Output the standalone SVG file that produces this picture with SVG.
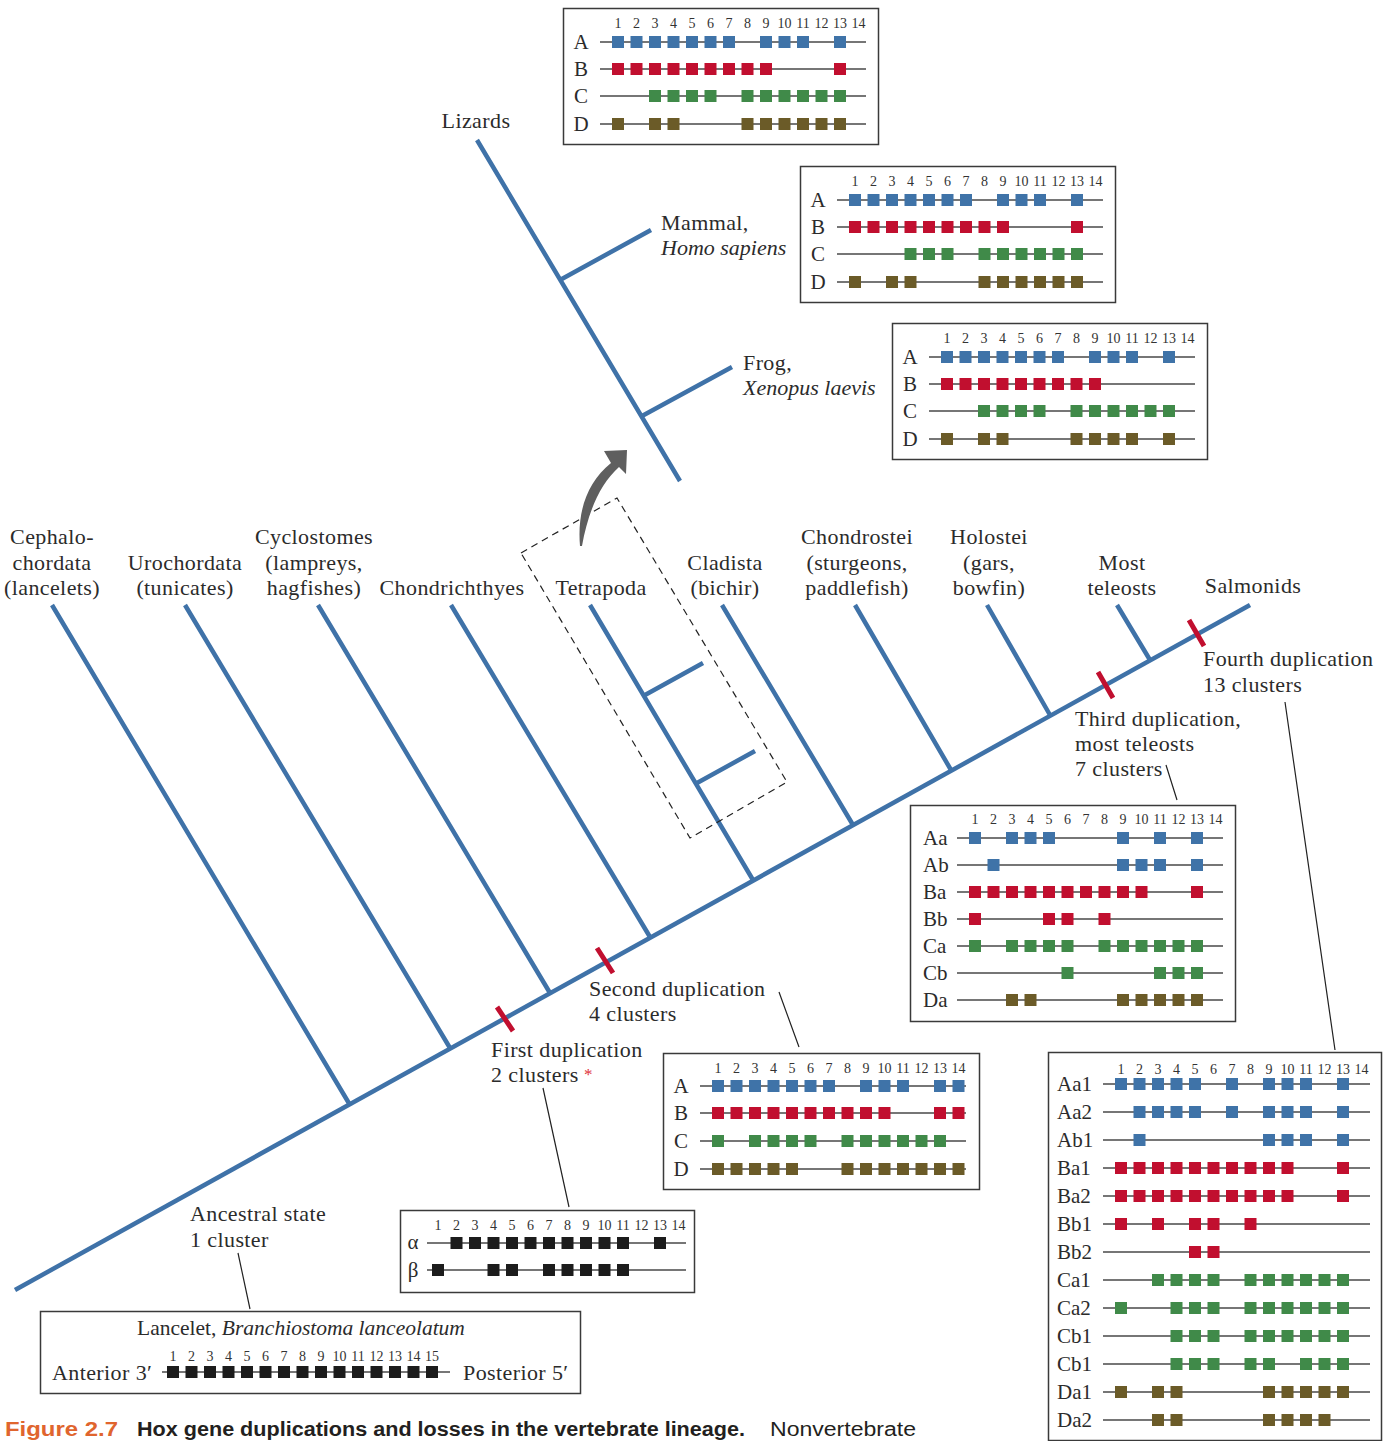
<svg xmlns="http://www.w3.org/2000/svg" xmlns:xlink="http://www.w3.org/1999/xlink" width="1396" height="1441" viewBox="0 0 1396 1441">
<style>
text{font-family:"Liberation Serif","DejaVu Serif",serif;fill:#2b2b2b}
.lab{font-size:22px;letter-spacing:0.4px}
.mid{text-anchor:middle}
.it{font-style:italic;letter-spacing:0}
.num{font-size:14px;text-anchor:middle;fill:#333}
.rlab{font-size:21px;text-anchor:middle}
.rlabs{font-size:21px}
.box{fill:#fff;stroke:#3a3a3a;stroke-width:1.5}
.rl{fill:none;stroke:#4a4a4a;stroke-width:1.5}
.A{fill:#3f73a8}.B{fill:#c10f2f}.C{fill:#408a49}.D{fill:#6b5b28}.K{fill:#1c1c1c}
.br{fill:none;stroke:#3f72a8;stroke-width:4.5}
.tick{stroke:#c10f2f;stroke-width:5}
.lead{stroke:#222;stroke-width:1.2;fill:none}
.cap{font-family:"Liberation Sans","Open Sans",sans-serif;font-size:20px}
</style>
<defs>
<rect id="s" x="-6" y="-6" width="12" height="12"/>
<g id="n14">
<text class="num" x="0">1</text><text class="num" x="18.5">2</text><text class="num" x="37">3</text><text class="num" x="55.5">4</text><text class="num" x="74">5</text><text class="num" x="92.5">6</text><text class="num" x="111">7</text><text class="num" x="129.5">8</text><text class="num" x="148">9</text><text class="num" x="166.5">10</text><text class="num" x="185">11</text><text class="num" x="203.5">12</text><text class="num" x="222">13</text><text class="num" x="240.5">14</text>
</g>
<g id="n15">
<use href="#n14"/><text class="num" x="259">15</text>
</g>
</defs>

<!-- connectors: tree -->
<g id="connectors">
<path class="br" d="M15 1290L1250 605"/>
<path class="br" d="M52 605L350 1105M185 605L450 1048M318 605L550 993M451 605L650 937M590 605L753 880M645 695L703 663M697 783L755 751M722 605L853 825M855 605L951 770M987 605L1050 715M1117 605L1150 660"/>
<path class="br" d="M477 140L680 481M560 280L651 230M642 416L732 367"/>
<path class="tick" d="M497 1007L513 1031M597 948L613 973M1098 672L1113 698M1189 620L1204 646"/>
<polygon points="521,553 617,498 787,782 690,838" fill="none" stroke="#222" stroke-width="1.2" stroke-dasharray="7,5"/>
<path d="M580 546C577 512 587 482 611 463L604 451L627 450L626 474L619 467C600 484 588 512 582 546Z" fill="#5f5f5f"/>
<path class="lead" d="M1166 765L1177 800M1285 702L1335 1050M779 992L799 1047M543 1088L569 1207M238 1253L250 1309"/>
</g>

<!-- tree labels -->
<g id="labels">
<text class="lab mid" x="52" y="544">Cephalo-</text>
<text class="lab mid" x="52" y="570">chordata</text>
<text class="lab mid" x="52" y="595">(lancelets)</text>
<text class="lab mid" x="185" y="570">Urochordata</text>
<text class="lab mid" x="185" y="595">(tunicates)</text>
<text class="lab mid" x="314" y="544">Cyclostomes</text>
<text class="lab mid" x="314" y="570">(lampreys,</text>
<text class="lab mid" x="314" y="595">hagfishes)</text>
<text class="lab mid" x="452" y="595">Chondrichthyes</text>
<text class="lab mid" x="601" y="595">Tetrapoda</text>
<text class="lab mid" x="725" y="570">Cladista</text>
<text class="lab mid" x="725" y="595">(bichir)</text>
<text class="lab mid" x="857" y="544">Chondrostei</text>
<text class="lab mid" x="857" y="570">(sturgeons,</text>
<text class="lab mid" x="857" y="595">paddlefish)</text>
<text class="lab mid" x="989" y="544">Holostei</text>
<text class="lab mid" x="989" y="570">(gars,</text>
<text class="lab mid" x="989" y="595">bowfin)</text>
<text class="lab mid" x="1122" y="570">Most</text>
<text class="lab mid" x="1122" y="595">teleosts</text>
<text class="lab mid" x="1253" y="593">Salmonids</text>
<text class="lab mid" x="476" y="128">Lizards</text>
<text class="lab" x="661" y="230">Mammal,</text>
<text class="lab it" x="661" y="255">Homo sapiens</text>
<text class="lab" x="743" y="370">Frog,</text>
<text class="lab it" x="743" y="395">Xenopus laevis</text>
<text class="lab" x="1203" y="666">Fourth duplication</text>
<text class="lab" x="1203" y="692">13 clusters</text>
<text class="lab" x="1075" y="726">Third duplication,</text>
<text class="lab" x="1075" y="751">most teleosts</text>
<text class="lab" x="1075" y="776">7 clusters</text>
<text class="lab" x="589" y="996">Second duplication</text>
<text class="lab" x="589" y="1021">4 clusters</text>
<text class="lab" x="491" y="1057">First duplication</text>
<text class="lab" x="491" y="1082">2 clusters</text>
<text x="584" y="1080" style="font-size:17px;fill:#e0303a">*</text>
<text class="lab" x="190" y="1221">Ancestral state</text>
<text class="lab" x="190" y="1247">1 cluster</text>
</g>

<!-- Lizard box -->
<g id="box-lizard" transform="translate(618 42)">
<rect class="box" x="-54.5" y="-33.5" width="315" height="136"/>
<use href="#n14" y="-14"/>
<path class="rl" d="M-18 0H248M-18 27H248M-18 54H248M-18 82H248"/>
<text class="rlab" x="-37" y="7">A</text><text class="rlab" x="-37" y="34">B</text><text class="rlab" x="-37" y="61">C</text><text class="rlab" x="-37" y="89">D</text>
<g class="A"><use href="#s" x="0"/><use href="#s" x="18.5"/><use href="#s" x="37"/><use href="#s" x="55.5"/><use href="#s" x="74"/><use href="#s" x="92.5"/><use href="#s" x="111"/><use href="#s" x="148"/><use href="#s" x="166.5"/><use href="#s" x="185"/><use href="#s" x="222"/></g>
<g class="B" transform="translate(0 27)"><use href="#s" x="0"/><use href="#s" x="18.5"/><use href="#s" x="37"/><use href="#s" x="55.5"/><use href="#s" x="74"/><use href="#s" x="92.5"/><use href="#s" x="111"/><use href="#s" x="129.5"/><use href="#s" x="148"/><use href="#s" x="222"/></g>
<g class="C" transform="translate(0 54)"><use href="#s" x="37"/><use href="#s" x="55.5"/><use href="#s" x="74"/><use href="#s" x="92.5"/><use href="#s" x="129.5"/><use href="#s" x="148"/><use href="#s" x="166.5"/><use href="#s" x="185"/><use href="#s" x="203.5"/><use href="#s" x="222"/></g>
<g class="D" transform="translate(0 82)"><use href="#s" x="0"/><use href="#s" x="37"/><use href="#s" x="55.5"/><use href="#s" x="129.5"/><use href="#s" x="148"/><use href="#s" x="166.5"/><use href="#s" x="185"/><use href="#s" x="203.5"/><use href="#s" x="222"/></g>
</g>

<!-- Mammal box -->
<g id="box-mammal" transform="translate(855 200)">
<rect class="box" x="-54.5" y="-33.5" width="315" height="136"/>
<use href="#n14" y="-14"/>
<path class="rl" d="M-18 0H248M-18 27H248M-18 54H248M-18 82H248"/>
<text class="rlab" x="-37" y="7">A</text><text class="rlab" x="-37" y="34">B</text><text class="rlab" x="-37" y="61">C</text><text class="rlab" x="-37" y="89">D</text>
<g class="A"><use href="#s" x="0"/><use href="#s" x="18.5"/><use href="#s" x="37"/><use href="#s" x="55.5"/><use href="#s" x="74"/><use href="#s" x="92.5"/><use href="#s" x="111"/><use href="#s" x="148"/><use href="#s" x="166.5"/><use href="#s" x="185"/><use href="#s" x="222"/></g>
<g class="B" transform="translate(0 27)"><use href="#s" x="0"/><use href="#s" x="18.5"/><use href="#s" x="37"/><use href="#s" x="55.5"/><use href="#s" x="74"/><use href="#s" x="92.5"/><use href="#s" x="111"/><use href="#s" x="129.5"/><use href="#s" x="148"/><use href="#s" x="222"/></g>
<g class="C" transform="translate(0 54)"><use href="#s" x="55.5"/><use href="#s" x="74"/><use href="#s" x="92.5"/><use href="#s" x="129.5"/><use href="#s" x="148"/><use href="#s" x="166.5"/><use href="#s" x="185"/><use href="#s" x="203.5"/><use href="#s" x="222"/></g>
<g class="D" transform="translate(0 82)"><use href="#s" x="0"/><use href="#s" x="37"/><use href="#s" x="55.5"/><use href="#s" x="129.5"/><use href="#s" x="148"/><use href="#s" x="166.5"/><use href="#s" x="185"/><use href="#s" x="203.5"/><use href="#s" x="222"/></g>
</g>

<!-- Frog box -->
<g id="box-frog" transform="translate(947 357)">
<rect class="box" x="-54.5" y="-33.5" width="315" height="136"/>
<use href="#n14" y="-14"/>
<path class="rl" d="M-18 0H248M-18 27H248M-18 54H248M-18 82H248"/>
<text class="rlab" x="-37" y="7">A</text><text class="rlab" x="-37" y="34">B</text><text class="rlab" x="-37" y="61">C</text><text class="rlab" x="-37" y="89">D</text>
<g class="A"><use href="#s" x="0"/><use href="#s" x="18.5"/><use href="#s" x="37"/><use href="#s" x="55.5"/><use href="#s" x="74"/><use href="#s" x="92.5"/><use href="#s" x="111"/><use href="#s" x="148"/><use href="#s" x="166.5"/><use href="#s" x="185"/><use href="#s" x="222"/></g>
<g class="B" transform="translate(0 27)"><use href="#s" x="0"/><use href="#s" x="18.5"/><use href="#s" x="37"/><use href="#s" x="55.5"/><use href="#s" x="74"/><use href="#s" x="92.5"/><use href="#s" x="111"/><use href="#s" x="129.5"/><use href="#s" x="148"/></g>
<g class="C" transform="translate(0 54)"><use href="#s" x="37"/><use href="#s" x="55.5"/><use href="#s" x="74"/><use href="#s" x="92.5"/><use href="#s" x="129.5"/><use href="#s" x="148"/><use href="#s" x="166.5"/><use href="#s" x="185"/><use href="#s" x="203.5"/><use href="#s" x="222"/></g>
<g class="D" transform="translate(0 82)"><use href="#s" x="0"/><use href="#s" x="37"/><use href="#s" x="55.5"/><use href="#s" x="129.5"/><use href="#s" x="148"/><use href="#s" x="166.5"/><use href="#s" x="185"/><use href="#s" x="222"/></g>
</g>

<!-- 4 clusters box -->
<g id="box-4clusters" transform="translate(718 1086)">
<rect class="box" x="-54.5" y="-32.5" width="316" height="136"/>
<use href="#n14" y="-13"/>
<path class="rl" d="M-18 0H248M-18 27H248M-18 55H248M-18 83H248"/>
<text class="rlab" x="-37" y="7">A</text><text class="rlab" x="-37" y="34">B</text><text class="rlab" x="-37" y="62">C</text><text class="rlab" x="-37" y="90">D</text>
<g class="A"><use href="#s" x="0"/><use href="#s" x="18.5"/><use href="#s" x="37"/><use href="#s" x="55.5"/><use href="#s" x="74"/><use href="#s" x="92.5"/><use href="#s" x="111"/><use href="#s" x="148"/><use href="#s" x="166.5"/><use href="#s" x="185"/><use href="#s" x="222"/><use href="#s" x="240.5"/></g>
<g class="B" transform="translate(0 27)"><use href="#s" x="0"/><use href="#s" x="18.5"/><use href="#s" x="37"/><use href="#s" x="55.5"/><use href="#s" x="74"/><use href="#s" x="92.5"/><use href="#s" x="111"/><use href="#s" x="129.5"/><use href="#s" x="148"/><use href="#s" x="166.5"/><use href="#s" x="222"/><use href="#s" x="240.5"/></g>
<g class="C" transform="translate(0 55)"><use href="#s" x="0"/><use href="#s" x="37"/><use href="#s" x="55.5"/><use href="#s" x="74"/><use href="#s" x="92.5"/><use href="#s" x="129.5"/><use href="#s" x="148"/><use href="#s" x="166.5"/><use href="#s" x="185"/><use href="#s" x="203.5"/><use href="#s" x="222"/></g>
<g class="D" transform="translate(0 83)"><use href="#s" x="0"/><use href="#s" x="18.5"/><use href="#s" x="37"/><use href="#s" x="55.5"/><use href="#s" x="74"/><use href="#s" x="129.5"/><use href="#s" x="148"/><use href="#s" x="166.5"/><use href="#s" x="185"/><use href="#s" x="203.5"/><use href="#s" x="222"/><use href="#s" x="240.5"/></g>
</g>

<!-- 2 clusters box -->
<g id="box-2clusters" transform="translate(438 1243)">
<rect class="box" x="-37.5" y="-32.5" width="294" height="82"/>
<use href="#n14" y="-13"/>
<path class="rl" d="M-11 0H248M-11 27H248"/>
<text class="rlab" x="-25" y="6">α</text><text class="rlab" x="-25" y="34">β</text>
<g class="K"><use href="#s" x="18.5"/><use href="#s" x="37"/><use href="#s" x="55.5"/><use href="#s" x="74"/><use href="#s" x="92.5"/><use href="#s" x="111"/><use href="#s" x="129.5"/><use href="#s" x="148"/><use href="#s" x="166.5"/><use href="#s" x="185"/><use href="#s" x="222"/></g>
<g class="K" transform="translate(0 27)"><use href="#s" x="0"/><use href="#s" x="55.5"/><use href="#s" x="74"/><use href="#s" x="111"/><use href="#s" x="129.5"/><use href="#s" x="148"/><use href="#s" x="166.5"/><use href="#s" x="185"/></g>
</g>

<!-- Teleost box -->
<g id="box-teleost" transform="translate(975 838)">
<rect class="box" x="-64.5" y="-32.5" width="325" height="216"/>
<use href="#n14" y="-14"/>
<path class="rl" d="M-18 0H248M-18 27H248M-18 54H248M-18 81H248M-18 108H248M-18 135H248M-18 162H248"/>
<text class="rlabs" x="-52" y="7">Aa</text><text class="rlabs" x="-52" y="34">Ab</text><text class="rlabs" x="-52" y="61">Ba</text><text class="rlabs" x="-52" y="88">Bb</text><text class="rlabs" x="-52" y="115">Ca</text><text class="rlabs" x="-52" y="142">Cb</text><text class="rlabs" x="-52" y="169">Da</text>
<g class="A"><use href="#s" x="0"/><use href="#s" x="37"/><use href="#s" x="55.5"/><use href="#s" x="74"/><use href="#s" x="148"/><use href="#s" x="185"/><use href="#s" x="222"/></g>
<g class="A" transform="translate(0 27)"><use href="#s" x="18.5"/><use href="#s" x="148"/><use href="#s" x="166.5"/><use href="#s" x="185"/><use href="#s" x="222"/></g>
<g class="B" transform="translate(0 54)"><use href="#s" x="0"/><use href="#s" x="18.5"/><use href="#s" x="37"/><use href="#s" x="55.5"/><use href="#s" x="74"/><use href="#s" x="92.5"/><use href="#s" x="111"/><use href="#s" x="129.5"/><use href="#s" x="148"/><use href="#s" x="166.5"/><use href="#s" x="222"/></g>
<g class="B" transform="translate(0 81)"><use href="#s" x="0"/><use href="#s" x="74"/><use href="#s" x="92.5"/><use href="#s" x="129.5"/></g>
<g class="C" transform="translate(0 108)"><use href="#s" x="0"/><use href="#s" x="37"/><use href="#s" x="55.5"/><use href="#s" x="74"/><use href="#s" x="92.5"/><use href="#s" x="129.5"/><use href="#s" x="148"/><use href="#s" x="166.5"/><use href="#s" x="185"/><use href="#s" x="203.5"/><use href="#s" x="222"/></g>
<g class="C" transform="translate(0 135)"><use href="#s" x="92.5"/><use href="#s" x="185"/><use href="#s" x="203.5"/><use href="#s" x="222"/></g>
<g class="D" transform="translate(0 162)"><use href="#s" x="37"/><use href="#s" x="55.5"/><use href="#s" x="148"/><use href="#s" x="166.5"/><use href="#s" x="185"/><use href="#s" x="203.5"/><use href="#s" x="222"/></g>
</g>

<!-- Salmonid box -->
<g id="box-salmonid" transform="translate(1121 1084)">
<rect class="box" x="-72.5" y="-31.5" width="333" height="388"/>
<use href="#n14" y="-10"/>
<path class="rl" d="M-18 0H249M-18 28H249M-18 56H249M-18 84H249M-18 112H249M-18 140H249M-18 168H249M-18 196H249M-18 224H249M-18 252H249M-18 280H249M-18 308H249M-18 336H249"/>
<text class="rlabs" x="-64" y="7">Aa1</text><text class="rlabs" x="-64" y="35">Aa2</text><text class="rlabs" x="-64" y="63">Ab1</text><text class="rlabs" x="-64" y="91">Ba1</text><text class="rlabs" x="-64" y="119">Ba2</text><text class="rlabs" x="-64" y="147">Bb1</text><text class="rlabs" x="-64" y="175">Bb2</text><text class="rlabs" x="-64" y="203">Ca1</text><text class="rlabs" x="-64" y="231">Ca2</text><text class="rlabs" x="-64" y="259">Cb1</text><text class="rlabs" x="-64" y="287">Cb1</text><text class="rlabs" x="-64" y="315">Da1</text><text class="rlabs" x="-64" y="343">Da2</text>
<g class="A"><use href="#s" x="0"/><use href="#s" x="18.5"/><use href="#s" x="37"/><use href="#s" x="55.5"/><use href="#s" x="74"/><use href="#s" x="111"/><use href="#s" x="148"/><use href="#s" x="166.5"/><use href="#s" x="185"/><use href="#s" x="222"/></g>
<g class="A" transform="translate(0 28)"><use href="#s" x="18.5"/><use href="#s" x="37"/><use href="#s" x="55.5"/><use href="#s" x="74"/><use href="#s" x="111"/><use href="#s" x="148"/><use href="#s" x="166.5"/><use href="#s" x="185"/><use href="#s" x="222"/></g>
<g class="A" transform="translate(0 56)"><use href="#s" x="18.5"/><use href="#s" x="148"/><use href="#s" x="166.5"/><use href="#s" x="185"/><use href="#s" x="222"/></g>
<g class="B" transform="translate(0 84)"><use href="#s" x="0"/><use href="#s" x="18.5"/><use href="#s" x="37"/><use href="#s" x="55.5"/><use href="#s" x="74"/><use href="#s" x="92.5"/><use href="#s" x="111"/><use href="#s" x="129.5"/><use href="#s" x="148"/><use href="#s" x="166.5"/><use href="#s" x="222"/></g>
<g class="B" transform="translate(0 112)"><use href="#s" x="0"/><use href="#s" x="18.5"/><use href="#s" x="37"/><use href="#s" x="55.5"/><use href="#s" x="74"/><use href="#s" x="92.5"/><use href="#s" x="111"/><use href="#s" x="129.5"/><use href="#s" x="148"/><use href="#s" x="166.5"/><use href="#s" x="222"/></g>
<g class="B" transform="translate(0 140)"><use href="#s" x="0"/><use href="#s" x="37"/><use href="#s" x="74"/><use href="#s" x="92.5"/><use href="#s" x="129.5"/></g>
<g class="B" transform="translate(0 168)"><use href="#s" x="74"/><use href="#s" x="92.5"/></g>
<g class="C" transform="translate(0 196)"><use href="#s" x="37"/><use href="#s" x="55.5"/><use href="#s" x="74"/><use href="#s" x="92.5"/><use href="#s" x="129.5"/><use href="#s" x="148"/><use href="#s" x="166.5"/><use href="#s" x="185"/><use href="#s" x="203.5"/><use href="#s" x="222"/></g>
<g class="C" transform="translate(0 224)"><use href="#s" x="0"/><use href="#s" x="55.5"/><use href="#s" x="74"/><use href="#s" x="92.5"/><use href="#s" x="129.5"/><use href="#s" x="148"/><use href="#s" x="166.5"/><use href="#s" x="185"/><use href="#s" x="203.5"/><use href="#s" x="222"/></g>
<g class="C" transform="translate(0 252)"><use href="#s" x="55.5"/><use href="#s" x="74"/><use href="#s" x="92.5"/><use href="#s" x="129.5"/><use href="#s" x="148"/><use href="#s" x="166.5"/><use href="#s" x="185"/><use href="#s" x="203.5"/><use href="#s" x="222"/></g>
<g class="C" transform="translate(0 280)"><use href="#s" x="55.5"/><use href="#s" x="74"/><use href="#s" x="92.5"/><use href="#s" x="129.5"/><use href="#s" x="148"/><use href="#s" x="185"/><use href="#s" x="203.5"/><use href="#s" x="222"/></g>
<g class="D" transform="translate(0 308)"><use href="#s" x="0"/><use href="#s" x="37"/><use href="#s" x="55.5"/><use href="#s" x="148"/><use href="#s" x="166.5"/><use href="#s" x="185"/><use href="#s" x="203.5"/><use href="#s" x="222"/></g>
<g class="D" transform="translate(0 336)"><use href="#s" x="37"/><use href="#s" x="55.5"/><use href="#s" x="148"/><use href="#s" x="166.5"/><use href="#s" x="185"/><use href="#s" x="203.5"/></g>
</g>

<!-- Lancelet box -->
<g id="box-lancelet" transform="translate(173 1372)">
<rect class="box" x="-132.5" y="-60.5" width="540" height="82"/>
<text class="mid" x="128" y="-37" style="font-size:21.5px">Lancelet, <tspan class="it">Branchiostoma lanceolatum</tspan></text>
<use href="#n15" y="-11"/>
<path class="rl" d="M-11 0H277"/>
<text class="lab" x="-121" y="8">Anterior 3′</text>
<text class="lab" x="290" y="8">Posterior 5′</text>
<g class="K"><use href="#s" x="0"/><use href="#s" x="18.5"/><use href="#s" x="37"/><use href="#s" x="55.5"/><use href="#s" x="74"/><use href="#s" x="92.5"/><use href="#s" x="111"/><use href="#s" x="129.5"/><use href="#s" x="148"/><use href="#s" x="166.5"/><use href="#s" x="185"/><use href="#s" x="203.5"/><use href="#s" x="222"/><use href="#s" x="240.5"/><use href="#s" x="259"/></g>
</g>

<!-- caption -->
<g id="caption">
<text class="cap" x="5" y="1436" font-weight="bold" style="fill:#e0652e" textLength="113" lengthAdjust="spacingAndGlyphs">Figure 2.7</text>
<text class="cap" x="137" y="1436" font-weight="bold" style="fill:#231f20" textLength="608" lengthAdjust="spacingAndGlyphs">Hox gene duplications and losses in the vertebrate lineage.</text>
<text class="cap" x="770" y="1436" style="fill:#231f20" textLength="146" lengthAdjust="spacingAndGlyphs">Nonvertebrate</text>
</g>
</svg>
